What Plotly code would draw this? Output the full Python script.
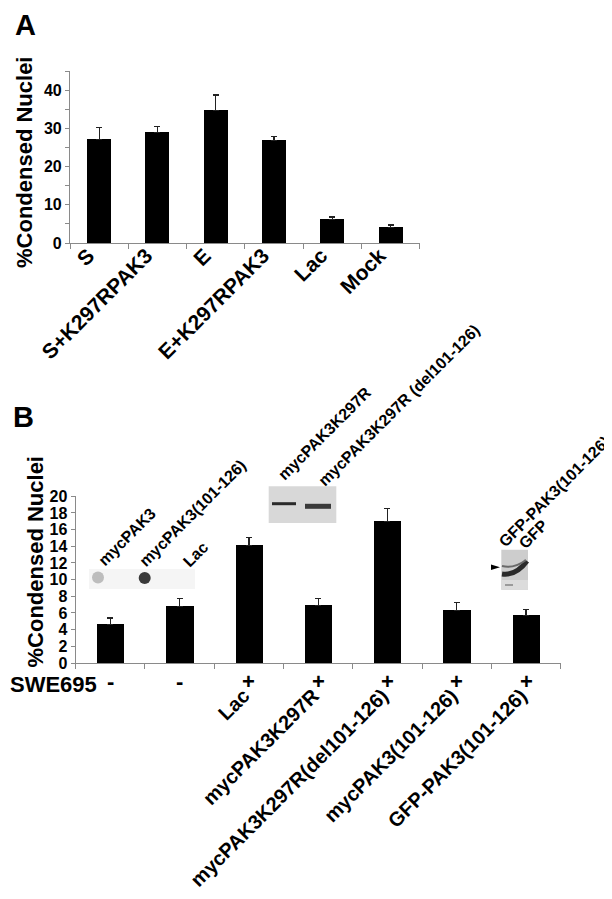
import plotly.graph_objects as go

# ---------------- data ----------------
# Panel A
cats_a = ["S", "S+K297RPAK3", "E", "E+K297RPAK3", "Lac", "Mock"]
vals_a = [27.2, 29.0, 34.8, 26.8, 6.2, 4.1]
err_a = [3.1, 1.6, 4.0, 1.2, 0.6, 0.6]
ytickvals_a = [0, 5, 10, 15, 20, 25, 30, 35, 40, 45]
yticktext_a = ["0", "", "10", "", "20", "", "30", "", "40", ""]

# Panel B
idx_b = [0, 1, 2, 3, 4, 5, 6]
vals_b = [4.6, 6.8, 14.1, 6.9, 17.0, 6.3, 5.7]
err_b = [0.8, 0.9, 1.0, 0.8, 1.5, 1.0, 0.7]
labels_b = ["", "", "Lac", "mycPAK3K297R", "mycPAK3K297R(del101-126)",
            "mycPAK3(101-126)", "GFP-PAK3(101-126)"]
swe695_b = ["-", "-", "+", "+", "+", "+", "+"]
ytickvals_b = [0, 2, 4, 6, 8, 10, 12, 14, 16, 18, 20]
yticktext_b = [str(v) for v in ytickvals_b]

# blot lane labels
blot_labels = ["mycPAK3", "mycPAK3(101-126)", "Lac", "mycPAK3K297R",
               "mycPAK3K297R (del101-126)", "GFP-PAK3(101-126)", "GFP"]

W, H = 612, 899
FONT = "Liberation Sans, Arial, Helvetica, sans-serif"
AXC = "#8a8a8a"


def px(x):
    return x / W


def py(y):
    return 1 - y / H


fig = go.Figure()

fig.add_trace(go.Bar(
    x=cats_a, y=vals_a, width=0.41,
    marker=dict(color="black", line=dict(width=0)),
    error_y=dict(type="data", symmetric=False, array=err_a,
                 arrayminus=[0] * len(err_a), color="#222222",
                 thickness=1.2, width=3),
    xaxis="x", yaxis="y", showlegend=False, hoverinfo="skip"))

fig.add_trace(go.Bar(
    x=idx_b, y=vals_b, width=0.395,
    marker=dict(color="black", line=dict(width=0)),
    error_y=dict(type="data", symmetric=False, array=err_b,
                 arrayminus=[0] * len(err_b), color="#222222",
                 thickness=1.2, width=3),
    xaxis="x2", yaxis="y2", showlegend=False, hoverinfo="skip"))

tickfont = dict(family=FONT, size=16, color="black", weight="bold")
catfont = dict(family=FONT, size=21, color="black", weight="bold")
catfont_b = dict(family=FONT, size=20, color="black", weight="bold")

fig.update_layout(
    width=W, height=H,
    margin=dict(l=0, r=0, t=0, b=0),
    paper_bgcolor="white", plot_bgcolor="white",
    bargap=0,
    xaxis=dict(domain=[px(62), px(411.7)], anchor="y",
               type="category", tickson="boundaries",
               showline=True, linecolor=AXC, linewidth=1.2,
               ticks="outside", ticklen=5, tickcolor=AXC, tickwidth=1,
               tickangle=-45, tickfont=catfont, automargin=False,
               ticklabelshift=-11, ticklabelstandoff=-9,
               showgrid=False, zeroline=False),
    yaxis=dict(domain=[py(235), py(63.3)], anchor="x", range=[0, 45],
               tickmode="array", tickvals=ytickvals_a, ticktext=yticktext_a,
               showline=True, linecolor=AXC, linewidth=1.2,
               ticks="outside", ticklen=4, tickcolor=AXC,
               tickfont=tickfont, automargin=False,
               showgrid=False, zeroline=False),
    xaxis2=dict(domain=[px(67.7), px(552.7)], anchor="y2",
                range=[-0.5, 6.5], tickmode="array", tickvals=idx_b,
                ticktext=labels_b, ticks="",
                minor=dict(ticks="outside", tick0=-0.5, dtick=1,
                           ticklen=5, tickcolor=AXC, tickwidth=1),
                showline=True, linecolor=AXC, linewidth=1.2,
                tickangle=-45, tickfont=catfont_b, ticklabelstandoff=12,
                ticklabelshift=-5,
                automargin=False, showgrid=False, zeroline=False),
    yaxis2=dict(domain=[py(655), py(488.3)], anchor="x2", range=[0, 20],
                tickmode="array", tickvals=ytickvals_b, ticktext=yticktext_b,
                showline=True, linecolor=AXC, linewidth=1.2,
                ticks="outside", ticklen=4, tickcolor=AXC,
                tickfont=dict(family=FONT, size=16, color="black",
                              weight="bold"),
                automargin=False, showgrid=False, zeroline=False),
)

ann = []
# panel letters
ann.append(dict(text="A", x=px(17), y=py(17), xref="paper", yref="paper",
                showarrow=False, xanchor="center", yanchor="middle",
                font=dict(family=FONT, size=29, color="black", weight="bold")))
ann.append(dict(text="B", x=px(15), y=py(409), xref="paper", yref="paper",
                showarrow=False, xanchor="center", yanchor="middle",
                font=dict(family=FONT, size=29, color="black", weight="bold")))
# y titles
ann.append(dict(text="%Condensed Nuclei", x=px(16.5), y=py(154.5),
                xref="paper", yref="paper", showarrow=False, textangle=-90,
                xanchor="center", yanchor="middle",
                font=dict(family=FONT, size=22, color="black", weight="bold")))
ann.append(dict(text="%Condensed Nuclei", x=px(26.5), y=py(554),
                xref="paper", yref="paper", showarrow=False, textangle=-90,
                xanchor="center", yanchor="middle",
                font=dict(family=FONT, size=22, color="black", weight="bold")))
# SWE695 row
ann.append(dict(text="SWE695", x=px(45.5), y=py(676), xref="paper",
                yref="paper", showarrow=False, xanchor="center",
                yanchor="middle",
                font=dict(family=FONT, size=22, color="black", weight="bold")))
for i, s in zip(idx_b, swe695_b):
    ann.append(dict(text=s, x=i, y=py(673), xref="x2", yref="paper",
                    showarrow=False, xanchor="center", yanchor="middle",
                    font=dict(family=FONT, size=22, color="black",
                              weight="bold")))

# blot lane labels (rotated), centred on text midpoints
blot_pos = [(119.2, 528.3), (184.0, 505.0), (187.5, 546.7), (316.7, 425.8),
            (390.8, 397.5), (546.4, 483.7), (525.0, 526.7)]
for t, (cx, cy) in zip(blot_labels, blot_pos):
    ann.append(dict(text=t, x=px(cx), y=py(cy), xref="paper", yref="paper",
                    showarrow=False, textangle=-45, xanchor="center",
                    yanchor="middle",
                    font=dict(family=FONT, size=16, color="black",
                              weight="bold")))
fig.update_layout(annotations=ann)

# ---- blot insets drawn as shapes ----
shapes = []


def rect(x0, y0, x1, y1, fill):
    shapes.append(dict(type="rect", xref="paper", yref="paper",
                       x0=px(x0), x1=px(x1), y0=py(y1), y1=py(y0),
                       fillcolor=fill, line=dict(width=0), layer="above"))


def circ(cx, cy, r, fill):
    shapes.append(dict(type="circle", xref="paper", yref="paper",
                       x0=px(cx - r), x1=px(cx + r), y0=py(cy + r),
                       y1=py(cy - r), fillcolor=fill, line=dict(width=0),
                       layer="above"))


def band(x0, y0, x1, y1, w, col):
    shapes.append(dict(type="line", xref="paper", yref="paper",
                       x0=px(x0), x1=px(x1), y0=py(y0), y1=py(y1),
                       line=dict(color=col, width=w), layer="above"))


# dot blot
rect(81, 561, 187, 581, "#f5f5f5")
circ(90, 569.5, 6, "#bdbdbd")
circ(136.7, 570, 6, "#3a3a3a")

# western blot (myc)
rect(260.7, 478.3, 328.3, 515, "#d8d8d8")
band(264, 495.7, 288, 495.7, 3, "#2a2a2a")
band(297, 498.3, 323, 498.3, 5, "#3a3a3a")

# GFP blot
rect(493.3, 541.7, 520, 581.7, "#cdcdcd")
rect(493.3, 572, 520, 581.7, "#dcdcdc")
shapes.append(dict(type="path", xref="paper", yref="paper",
                   path=f"M {px(494)},{py(566)} Q {px(508)},{py(568)} {px(519)},{py(553)}",
                   line=dict(color="#2a2a2a", width=5), layer="above"))
shapes.append(dict(type="path", xref="paper", yref="paper",
                   path=f"M {px(494)},{py(558)} Q {px(506)},{py(561)} {px(518)},{py(552)}",
                   line=dict(color="#6a6a6a", width=2), layer="above"))
band(497, 577, 505, 577, 2, "#9a9a9a")
# arrowhead
shapes.append(dict(type="path", xref="paper", yref="paper",
                   path=f"M {px(483)},{py(556.5)} L {px(492)},{py(559.3)} L {px(483)},{py(562)} Z",
                   fillcolor="black", line=dict(width=0), layer="above"))

fig.update_layout(shapes=shapes)

fig.write_html("out.html")
